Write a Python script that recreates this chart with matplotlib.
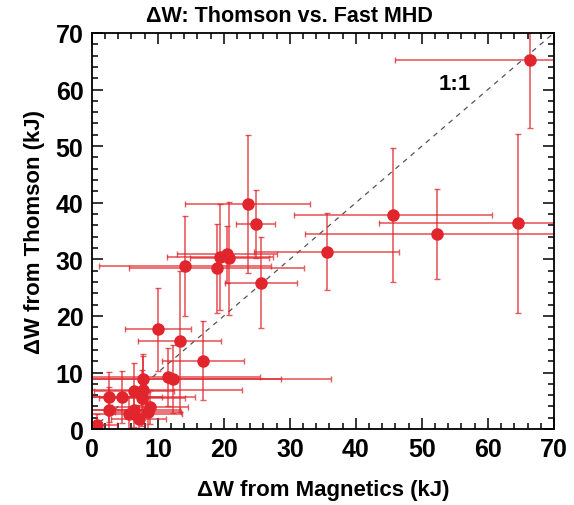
import numpy as np
import matplotlib
matplotlib.use("Agg")
from matplotlib import pyplot as plt
from matplotlib.ticker import MultipleLocator

plt.rcParams['font.family'] = ['Liberation Sans', 'DejaVu Sans']
plt.rcParams['font.weight'] = 'bold'

# dW from magnetics (x) and from Thomson (y), kJ, with error bars
dw_mag = [66.4, 23.6, 24.8, 45.6, 52.3, 64.5, 35.6, 19.4, 20.5, 20.8, 14.1, 18.9, 25.6,
          10.0, 13.3, 16.8, 11.5, 12.3, 7.7,
          2.6, 4.5, 6.4, 7.6, 7.8, 2.6, 5.6, 6.4, 7.1, 8.5, 8.8, 0.8]
dw_mag_err = [20.5, 9.5, 3.0, 15.0, 20.0, 21.0, 11.0, 8.0, 7.6, 6.0, 13.0, 13.2, 5.5,
              5.0, 6.3, 6.2, 14.0, 24.0, 21.0,
              8.0, 11.1, 6.0, 6.5, 15.0, 5.0, 8.0, 7.0, 4.2, 5.0, 5.8, 3.0]
dw_ts = [65.2, 39.8, 36.2, 37.8, 34.5, 36.4, 31.3, 30.4, 30.9, 30.2, 28.8, 28.4, 25.9,
         17.6, 15.5, 12.1, 9.2, 8.9, 8.9,
         5.7, 5.7, 6.7, 5.5, 6.9, 3.4, 2.6, 3.4, 1.8, 3.1, 3.9, 0.7]
dw_ts_err = [12.0, 12.2, 6.0, 11.8, 8.0, 15.8, 6.8, 9.3, 5.0, 10.0, 8.8, 7.8, 8.0,
             7.3, 12.5, 7.0, 5.2, 6.0, 4.4,
             4.4, 4.6, 5.0, 5.0, 6.0, 4.0, 3.0, 3.0, 2.5, 3.5, 3.0, 2.0]

red = '#e0262c'

fig = plt.figure(figsize=(5.74, 5.06), dpi=100)
ax = fig.add_axes([0.160, 0.150, 0.805, 0.783])

ax.plot([0, 70], [0, 70], ls=(0, (4, 4)), color='#555555', lw=0.9)
ax.errorbar(dw_mag, dw_ts, xerr=dw_mag_err, yerr=dw_ts_err, fmt='none',
            ecolor=red, elinewidth=1.2, capsize=2.5, capthick=1.0, alpha=0.75)
ax.plot(dw_mag, dw_ts, 'o', color=red, ms=8, mec=red)

ax.text(55, 61, '1:1', fontsize=16, fontweight='bold', ha='center', va='center')

ax.set_xlim(0, 70)
ax.set_ylim(0, 70)
ax.xaxis.set_major_locator(MultipleLocator(10))
ax.yaxis.set_major_locator(MultipleLocator(10))
ax.xaxis.set_minor_locator(MultipleLocator(2))
ax.yaxis.set_minor_locator(MultipleLocator(2))
ax.tick_params(which='both', direction='in', top=True, right=True, width=1.1)
ax.tick_params(which='major', length=8, labelsize=18, pad=6)
ax.tick_params(which='minor', length=4)
for s in ax.spines.values():
    s.set_linewidth(1.3)

fig.text(0.505, 0.988, '\u0394W: Thomson vs. Fast MHD', fontsize=15.5, fontweight='bold',
         ha='center', va='top')
ax.set_xlabel('\u0394W from Magnetics (kJ)', fontsize=16, fontweight='bold', labelpad=13)
ax.set_ylabel('\u0394W from Thomson (kJ)', fontsize=16, fontweight='bold', labelpad=8)

fig.savefig('out.png', dpi=100)
